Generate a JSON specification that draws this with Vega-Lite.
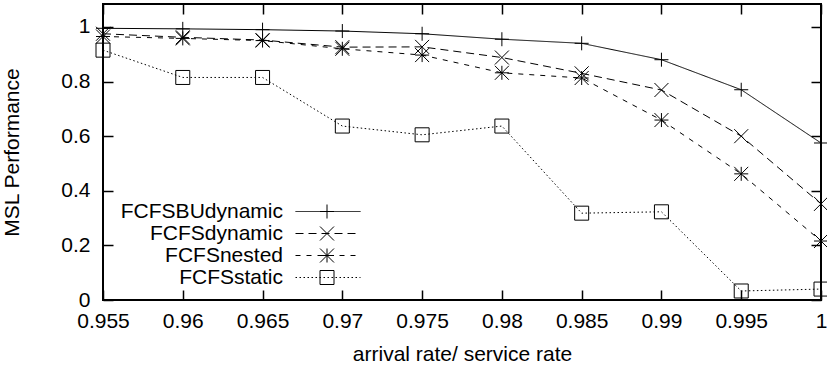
{
  "$schema": "https://vega.github.io/schema/vega-lite/v6.json",
  "width": 718,
  "height": 296,
  "autosize": {"type": "none"},
  "padding": {"left": 103, "top": 4, "right": 6, "bottom": 67},
  "background": "white",
  "config": {
    "view": {"stroke": "black", "strokeWidth": 2},
    "font": "Liberation Sans",
    "axis": {
      "grid": false,
      "domain": false,
      "tickColor": "black",
      "tickWidth": 1.5,
      "tickSize": -10,
      "labelFlush": false,
      "labelOverlap": false,
      "labelFont": "Liberation Sans",
      "labelFontSize": 21,
      "labelColor": "black",
      "titleFont": "Liberation Sans",
      "titleFontSize": 21,
      "titleFontWeight": "normal",
      "titleColor": "black"
    },
    "legend": {
      "labelFont": "Liberation Sans",
      "labelFontSize": 21,
      "labelColor": "black",
      "labelLimit": 400
    }
  },
  "data": {
    "values": [
      {"x": 0.955, "y": 0.995, "series": "FCFSBUdynamic"},
      {"x": 0.96, "y": 0.993, "series": "FCFSBUdynamic"},
      {"x": 0.965, "y": 0.99, "series": "FCFSBUdynamic"},
      {"x": 0.97, "y": 0.985, "series": "FCFSBUdynamic"},
      {"x": 0.975, "y": 0.975, "series": "FCFSBUdynamic"},
      {"x": 0.98, "y": 0.955, "series": "FCFSBUdynamic"},
      {"x": 0.985, "y": 0.94, "series": "FCFSBUdynamic"},
      {"x": 0.99, "y": 0.88, "series": "FCFSBUdynamic"},
      {"x": 0.995, "y": 0.77, "series": "FCFSBUdynamic"},
      {"x": 1, "y": 0.575, "series": "FCFSBUdynamic"},
      {"x": 0.955, "y": 0.975, "series": "FCFSdynamic"},
      {"x": 0.96, "y": 0.962, "series": "FCFSdynamic"},
      {"x": 0.965, "y": 0.952, "series": "FCFSdynamic"},
      {"x": 0.97, "y": 0.926, "series": "FCFSdynamic"},
      {"x": 0.975, "y": 0.927, "series": "FCFSdynamic"},
      {"x": 0.98, "y": 0.888, "series": "FCFSdynamic"},
      {"x": 0.985, "y": 0.83, "series": "FCFSdynamic"},
      {"x": 0.99, "y": 0.769, "series": "FCFSdynamic"},
      {"x": 0.995, "y": 0.6, "series": "FCFSdynamic"},
      {"x": 1, "y": 0.352, "series": "FCFSdynamic"},
      {"x": 0.955, "y": 0.965, "series": "FCFSnested"},
      {"x": 0.96, "y": 0.958, "series": "FCFSnested"},
      {"x": 0.965, "y": 0.95, "series": "FCFSnested"},
      {"x": 0.97, "y": 0.92, "series": "FCFSnested"},
      {"x": 0.975, "y": 0.897, "series": "FCFSnested"},
      {"x": 0.98, "y": 0.832, "series": "FCFSnested"},
      {"x": 0.985, "y": 0.813, "series": "FCFSnested"},
      {"x": 0.99, "y": 0.659, "series": "FCFSnested"},
      {"x": 0.995, "y": 0.462, "series": "FCFSnested"},
      {"x": 1, "y": 0.216, "series": "FCFSnested"},
      {"x": 0.955, "y": 0.915, "series": "FCFSstatic"},
      {"x": 0.96, "y": 0.815, "series": "FCFSstatic"},
      {"x": 0.965, "y": 0.815, "series": "FCFSstatic"},
      {"x": 0.97, "y": 0.637, "series": "FCFSstatic"},
      {"x": 0.975, "y": 0.605, "series": "FCFSstatic"},
      {"x": 0.98, "y": 0.637, "series": "FCFSstatic"},
      {"x": 0.985, "y": 0.318, "series": "FCFSstatic"},
      {"x": 0.99, "y": 0.323, "series": "FCFSstatic"},
      {"x": 0.995, "y": 0.033, "series": "FCFSstatic"},
      {"x": 1, "y": 0.04, "series": "FCFSstatic"}
    ]
  },
  "layer": [
    {
      "mark": {"type": "line", "stroke": "black", "strokeWidth": 1},
      "encoding": {
        "x": {
          "field": "x", "type": "quantitative",
          "scale": {"domain": [0.955, 1], "nice": false, "zero": false},
          "axis": {
            "orient": "bottom",
            "values": [0.955, 0.96, 0.965, 0.97, 0.975, 0.98, 0.985, 0.99, 0.995, 1],
            "format": "~g",
            "labelPadding": 20,
            "title": "arrival rate/ service rate",
            "titlePadding": 12
          }
        },
        "y": {
          "field": "y", "type": "quantitative",
          "scale": {"domain": [0, 1.084], "nice": false, "zero": true},
          "axis": {
            "orient": "left",
            "values": [0, 0.2, 0.4, 0.6, 0.8, 1],
            "format": "~g",
            "labelPadding": 23,
            "title": "MSL Performance",
            "titlePadding": 38
          }
        },
        "strokeDash": {
          "field": "series", "type": "nominal",
          "scale": {"range": [[1, 0], [8, 5], [5, 6], [1.5, 2.5]]},
          "legend": {
            "orient": "none", "legendX": 214.5, "legendY": 197,
            "title": null,
            "symbolType": "M-5,0H5", "symbolSize": 169,
            "symbolStrokeColor": "black", "symbolStrokeWidth": 1,
            "symbolFillColor": "transparent",
            "labelAlign": "right", "labelOffset": -55.5,
            "padding": 0, "rowPadding": 0
          }
        }
      }
    },
    {
      "mark": {"type": "point", "filled": false, "stroke": "black", "strokeWidth": 1, "size": 196, "opacity": 1},
      "encoding": {
        "x": {
          "field": "x", "type": "quantitative",
          "axis": {"orient": "top", "values": [0.955, 0.96, 0.965, 0.97, 0.975, 0.98, 0.985, 0.99, 0.995, 1], "labels": false, "title": null}
        },
        "y": {
          "field": "y", "type": "quantitative",
          "axis": {"orient": "right", "values": [0, 0.2, 0.4, 0.6, 0.8, 1], "labels": false, "title": null}
        },
        "shape": {
          "field": "series", "type": "nominal",
          "scale": {
            "domain": ["FCFSBUdynamic", "FCFSdynamic", "FCFSnested", "FCFSstatic"],
            "range": ["M-1,0H1M0,-1V1", "M-1,-1L1,1M-1,1L1,-1", "M-1,0H1M0,-1V1M-1,-1L1,1M-1,1L1,-1", "square"]
          },
          "legend": {
            "orient": "none", "legendX": 213.5, "legendY": 197,
            "title": null,
            "symbolSize": 196,
            "symbolStrokeColor": "black", "symbolStrokeWidth": 1,
            "labelOpacity": 0,
            "padding": 0, "rowPadding": 0
          }
        }
      }
    }
  ]
}
